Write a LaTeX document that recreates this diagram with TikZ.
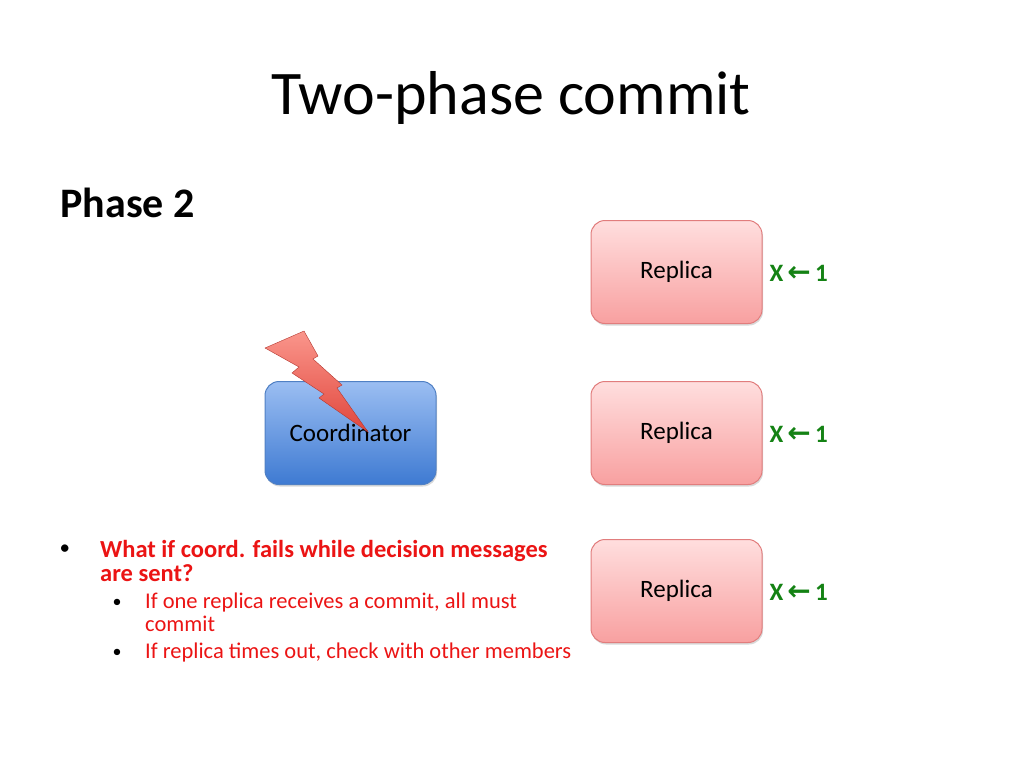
\documentclass[tikz,border=0pt]{standalone}
\usepackage{fontspec}
\setmainfont{Carlito}
\newfontfamily\dv{DejaVu Sans}
\usetikzlibrary{shadows}
\definecolor{pinkT}{RGB}{255,222,222}
\definecolor{pinkB}{RGB}{248,160,160}
\definecolor{pinkD}{RGB}{225,125,125}
\definecolor{blueT}{RGB}{155,190,242}
\definecolor{blueB}{RGB}{62,122,210}
\definecolor{blueD}{RGB}{80,128,196}
\definecolor{okgreen}{RGB}{20,130,20}
\definecolor{bred}{RGB}{235,20,20}
\definecolor{boltT}{RGB}{250,150,140}
\definecolor{boltB}{RGB}{225,70,60}
\tikzset{
 x=1pt,y=-1pt,
 rep/.style={draw=pinkD,line width=1pt,rounded corners=14pt,top color=pinkT,bottom color=pinkB,minimum width=171pt,minimum height=103pt,font=\fontsize{25}{28}\selectfont,drop shadow={opacity=0.3,shadow xshift=1pt,shadow yshift=-2pt}},
 coord/.style={rep,draw=blueD,top color=blueT,bottom color=blueB},
 asg/.style={font=\fontsize{25}{28}\selectfont\bfseries,text=okgreen,anchor=west}
}
\begin{document}
\begin{tikzpicture}
\useasboundingbox (0,0) rectangle (1024,768);
\node[font=\fontsize{62}{68}\selectfont] (title) at (511,98) {Two-phase commit};
\node[font=\fontsize{42}{46}\selectfont\bfseries,anchor=west] (ph) at (57,203) {Phase 2};
\node[rep] (r1) at (676.5,272) {\raisebox{-3pt}{Replica}};
\node[rep] (r2) at (676.5,433) {\raisebox{-3pt}{Replica}};
\node[rep] (r3) at (676.5,591) {\raisebox{-3pt}{Replica}};
\node[coord] (c) at (350.5,433) {Coordinator};
\node[asg] (a1) at (766,273) {X\,{\dv\bfseries\fontsize{28}{28}\selectfont ←}\,1};
\node[asg] (a2) at (766,434) {X\,{\dv\bfseries\fontsize{28}{28}\selectfont ←}\,1};
\node[asg] (a3) at (766,592) {X\,{\dv\bfseries\fontsize{28}{28}\selectfont ←}\,1};
\shade[top color=boltT,bottom color=boltB,draw=boltB!80!black,line width=0.4pt,line join=miter]
 (265,348) -- (304,331) -- (318,356) -- (313,359) -- (342,385) -- (337,388) -- (368,432)
 -- (319,398) -- (324,394) -- (292,373) -- (299,367) -- cycle;
\node[anchor=west,font=\fontsize{21}{26}\selectfont] (b1) at (56,550) {•};
\node[anchor=north west,align=left,text=bred,font=\fontsize{24.5}{24}\selectfont\bfseries,inner sep=0pt] (t1) at (100,540) {What if coord. fails while decision messages\\are sent?};
\node[anchor=west,font=\fontsize{18}{20}\selectfont] (b2) at (109,603) {•};
\node[anchor=north west,align=left,text=bred,font=\fontsize{22.5}{23}\selectfont,inner sep=0pt] (t2) at (145,593) {If one replica receives a commit, all must\\commit};
\node[anchor=west,font=\fontsize{18}{20}\selectfont] (b3) at (109,653) {•};
\node[anchor=north west,text=bred,font=\fontsize{22.5}{23}\selectfont,inner sep=0pt] (t3) at (145,643) {If replica times out, check with other members};
\end{tikzpicture}
\end{document}
